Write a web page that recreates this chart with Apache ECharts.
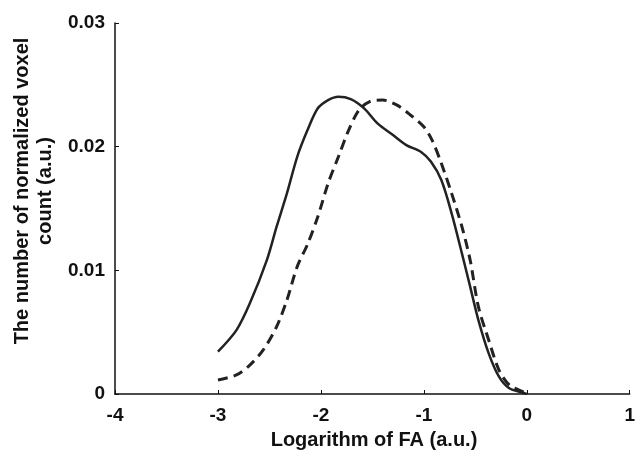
<!DOCTYPE html>
<html><head><meta charset="utf-8">
<script src="https://cdn.jsdelivr.net/npm/echarts@6/dist/echarts.min.js"></script>
<style>html,body{margin:0;padding:0;background:#fff}#c{width:638px;height:452px}</style>
</head><body><div id="c"></div>
<script>
const xTicks = [-4, -3, -2, -1, 0, 1];
const yTicks = [0, 0.01, 0.02, 0.03];
const solidX = [-3.0,-2.82,-2.69,-2.525,-2.43,-2.33,-2.23,-2.13,-2.03,-1.93,-1.83,-1.71,-1.58,-1.45,-1.30,-1.17,-1.03,-0.93,-0.83,-0.73,-0.63,-0.55,-0.47,-0.37,-0.27,-0.17,-0.04,0];
const solidY = [0.00342,0.00517,0.00733,0.01083,0.01353,0.01622,0.01918,0.02134,0.0231,0.02377,0.02404,0.02385,0.0231,0.02188,0.02094,0.02013,0.01959,0.01878,0.0173,0.01461,0.01137,0.00868,0.00598,0.00329,0.0014,0.00046,0.0001,0];
const dashX = [-3.0,-2.82,-2.69,-2.56,-2.43,-2.33,-2.23,-2.13,-2.03,-1.93,-1.83,-1.73,-1.63,-1.53,-1.40,-1.26,-1.13,-1.00,-0.92,-0.83,-0.73,-0.63,-0.55,-0.47,-0.37,-0.27,-0.17,-0.04,0];
const dashY = [0.00113,0.00154,0.00234,0.00356,0.00544,0.0076,0.0103,0.0121,0.01433,0.01703,0.01918,0.02134,0.02296,0.02363,0.02377,0.02336,0.02256,0.02161,0.02053,0.01865,0.01622,0.01353,0.01083,0.00706,0.00437,0.00194,0.00073,0.00019,0];
const xName = 'Logarithm of FA (a.u.)';
const yName1 = 'The number of normalized voxel';
const yName2 = 'count (a.u.)';

const font = 'Liberation Sans, Arial, sans-serif';
const chart = echarts.init(document.getElementById('c'));
chart.setOption({
  animation: false,
  grid: {left: 115, right: 5, top: 23, bottom: 58},
  xAxis: {
    type: 'value', min: xTicks[0], max: xTicks[xTicks.length-1], interval: 1,
    axisLine: {onZero: false, lineStyle: {color: '#111', width: 1.5}},
    axisTick: {inside: true, length: 4, lineStyle: {color: '#111'}},
    splitLine: {show: false},
    axisLabel: {color: '#111', fontSize: 19, fontWeight: 'bold', fontFamily: font, margin: 12}
  },
  yAxis: {
    type: 'value', min: yTicks[0], max: yTicks[yTicks.length-1], interval: 0.01,
    axisLine: {show: true, onZero: false, lineStyle: {color: '#111', width: 1.5}},
    axisTick: {show: true, inside: true, length: 4, lineStyle: {color: '#111'}},
    splitLine: {show: false},
    axisLabel: {color: '#111', fontSize: 19, fontWeight: 'bold', fontFamily: font, margin: 10,
      formatter: v => v === 0 ? '0' : v.toFixed(2)}
  },
  graphic: [
    {type: 'text', x: 374, y: 440, style: {text: xName, align: 'center', verticalAlign: 'middle', fontSize: 20, fontWeight: 'bold', fontFamily: font, fill: '#111'}},
    {type: 'text', x: 22, y: 191, rotation: Math.PI/2, style: {text: yName1, align: 'center', verticalAlign: 'middle', fontSize: 20, fontWeight: 'bold', fontFamily: font, fill: '#111'}},
    {type: 'text', x: 45, y: 191, rotation: Math.PI/2, style: {text: yName2, align: 'center', verticalAlign: 'middle', fontSize: 20, fontWeight: 'bold', fontFamily: font, fill: '#111'}}
  ],
  series: [
    {type: 'line', data: solidX.map((x,i)=>[x, solidY[i]]), showSymbol: false, smooth: 0.3,
     lineStyle: {color: '#222', width: 2.5}},
    {type: 'line', data: dashX.map((x,i)=>[x, dashY[i]]), showSymbol: false, smooth: 0.3,
     lineStyle: {color: '#222', width: 3, type: [10, 6]}}
  ]
});
</script></body></html>
